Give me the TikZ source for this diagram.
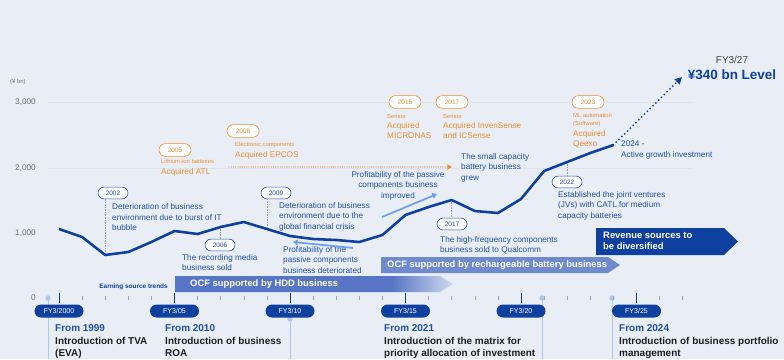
\documentclass[tikz,border=0pt]{standalone}
\usepackage{fontspec}
\setmainfont{Liberation Sans}
\usepackage{tikz}
\usetikzlibrary{arrows.meta,positioning,shapes.misc}

\definecolor{bgblue}{RGB}{233,238,246}
\definecolor{tdkblue}{RGB}{14,64,160}
\definecolor{noteblue}{RGB}{30,80,168}
\definecolor{acqorange}{RGB}{238,140,45}
\definecolor{lightarrow}{RGB}{110,160,235}
\definecolor{hddA}{RGB}{88,116,196}
\definecolor{hddB}{RGB}{210,218,238}
\definecolor{battbar}{RGB}{112,138,206}
\definecolor{axisgray}{RGB}{105,110,120}
\definecolor{tickgray}{RGB}{150,160,182}
\definecolor{guide}{RGB}{172,198,238}
\definecolor{gridline}{RGB}{222,228,239}
\definecolor{fromblack}{RGB}{30,30,30}

\pgfdeclarehorizontalshading{hddfade}{100bp}{color(0bp)=(hddA); color(25bp)=(hddA); color(64bp)=(hddA); color(75bp)=(hddB); color(100bp)=(hddB)}

\newcommand{\txtnote}{\fontsize{7}{9}\selectfont}
\newcommand{\txttiny}{\fontsize{5}{6}\selectfont}
\newcommand{\txtpill}{\fontsize{5.5}{6}\selectfont}
\newcommand{\txtacq}{\fontsize{7}{8.5}\selectfont}
\newcommand{\txtfy}{\fontsize{6}{7}\selectfont}
\newcommand{\txtbar}{\bfseries\fontsize{8}{9.4}\selectfont}
\newcommand{\txtfrom}{\bfseries\fontsize{8.5}{11}\selectfont}

\begin{document}
\begin{tikzpicture}[x=0.3mm, y=-0.3mm,
  note/.style={anchor=north west, align=left, inner sep=0pt, text=noteblue, font=\txtnote},
  yearpill/.style={rounded rectangle, draw=noteblue, line width=0.5pt, fill=white, text=noteblue, font=\txtpill, minimum width=9mm, minimum height=3.5mm, inner sep=0pt},
  acqpill/.style={yearpill, draw=acqorange, text=acqorange, minimum width=9.6mm, minimum height=3.8mm},
  acqsmall/.style={note, text=acqorange, font=\txttiny},
  acqbig/.style={note, text=acqorange, font=\txtacq},
  fypill/.style={rounded rectangle, fill=tdkblue, text=white, font=\txtfy, minimum width=14.7mm, minimum height=3.9mm, inner sep=0pt},
  lead/.style={draw=tickgray, densely dotted, line width=0.4pt},
  trend/.style={draw=lightarrow, line width=1.5pt, -{Triangle[length=4pt,width=5pt]}},
  bartext/.style={text=white, font=\txtbar, inner sep=0pt, align=left},
  fromtext/.style={anchor=north west, align=left, inner sep=0pt, text=fromblack, font=\txtfrom},
  axlabel/.style={anchor=east, inner sep=0pt, text=axisgray, font=\txtnote}
]
\path[use as bounding box, fill=bgblue] (0,0) rectangle (784,359);

% grid and y axis
\draw[gridline, line width=0.6pt] (48,102) -- (693,102) (48,168) -- (693,168);
\node[anchor=west, inner sep=0pt, text=axisgray, font=\txttiny] (unit) at (10,82) {(\textyen\ bn)};
\node[axlabel] (v3000) at (36,102) {3,000};
\node[axlabel] (v2000) at (36,168) {2,000};
\node[axlabel] (v1000) at (36,233) {1,000};
\node[axlabel] (v0) at (36,298) {0};

% guides of the "From ..." texts
\coordinate (g99) at (48,298);
\coordinate (g10) at (290,319);
\coordinate (g21) at (542,298);
\coordinate (g24) at (612,298);
\foreach \g in {g99,g10,g21,g24}{
  \draw[guide, line width=0.7pt] (\g) -- (\g |- 0,359);
  \fill[guide] (\g) circle (0.8mm);
}

% time axis
\foreach \i in {0,...,27}
  \draw[tickgray, line width=0.4pt] ({59+23.1*\i},296) -- ++(0,4);
\foreach \i/\yr in {0/2000,5/05,10/10,15/15,20/20,25/25}{
  \draw[tdkblue, line width=0.6pt] ({59+23.1*\i},293) -- ++(0,10);
  \node[fypill] (fy\yr) at ({59+23.1*\i},311) {FY3/\yr};
}

% earning source bars
\node[anchor=east, inner sep=0pt, text=tdkblue, font=\bfseries\fontsize{5.5}{6}\selectfont] (trends) at (168,287) {Earning source trends};
\shade[shading=hddfade] (175,276) -- (440,276) -- (453,284) -- (440,292) -- (175,292) -- cycle;
\node[bartext, anchor=west] (hdd) at (190,284) {OCF supported by HDD business};
\fill[battbar] (381,257) -- (608,257) -- (620,265) -- (608,273) -- (381,273) -- cycle;
\node[bartext, anchor=west] (batt) at (387,265) {OCF supported by rechargeable battery business};
\fill[tdkblue] (596,228) -- (724,228) -- (738,241.5) -- (724,255) -- (596,255) -- cycle;
\node[bartext, anchor=north west] (revenue) at (603,231.5) {Revenue sources to\\be diversified};

% acquisitions
\node[acqpill] (a2005) at (175,150) {2005};
\node[acqsmall] (a2005s) at (161,159.5) {Lithium-ion batteries};
\node[acqbig] (a2005b) at (161,168.5) {Acquired ATL};
\node[acqpill] (a2008) at (243,131) {2008};
\node[acqsmall] (a2008s) at (235,142.5) {Electronic components};
\node[acqbig] (a2008b) at (235,151) {Acquired EPCOS};
\node[acqpill] (a2015) at (405,102) {2015};
\node[acqsmall] (a2015s) at (387,114.5) {Sensor};
\node[acqbig] (a2015b) at (387,122.5) {Acquired\\MICRONAS};
\node[acqpill] (a2017) at (452,102) {2017};
\node[acqsmall] (a2017s) at (443,114.5) {Sensor};
\node[acqbig] (a2017b) at (443,122.5) {Acquired InvenSense\\and ICSense};
\node[acqpill] (a2023) at (588,102) {2023};
\node[acqsmall] (a2023s) at (573,113.5) {ML automation\\(Software)};
\node[acqbig] (a2023b) at (573,130.5) {Acquired\\Qeexo};
\coordinate (acqL) at (229,167);
\coordinate (acqR) at (452,167);
\draw[acqorange, line width=1.1pt, line cap=round, dash pattern=on 0pt off 1.9pt, -{Triangle[length=4pt,width=4.5pt]}] (acqL) -- (acqR);

% revenue line
\foreach \yv [count=\i from 0] in {229,237,255,252,242,231,234,227,222,229,236,239,240,242,235,215,207,200,211,213,199,171,162,153,145}
  \coordinate (p\i) at ({59+23.1*\i},\yv);
\coordinate (goal) at (682,77);

\node[yearpill] (y2002) at (113,193) {2002};
\node[yearpill] (y2006) at (220,245) {2006};
\node[yearpill] (y2009) at (276,193) {2009};
\node[yearpill] (y2017) at (452,224) {2017};
\node[yearpill] (y2022) at (567,182) {2022};
\draw[lead] (p2) -- (p2 |- y2002.south);
\draw[lead] (p7) -- (p7 |- y2006.north);
\draw[lead] (p9) -- (p9 |- y2009.south);
\draw[lead] (p17) -- (p17 |- y2017.north);
\draw[lead] (p22) -- (p22 |- y2022.north);

\draw[tdkblue, line width=2.2pt, line join=round] (p0) \foreach \i in {1,...,24}{ -- (p\i)};
\draw[tdkblue, line width=1.7pt, line cap=round, dash pattern=on 0pt off 3.4pt, -{Triangle[length=6pt,width=6pt]}] (p24) -- (goal);

\node[anchor=south, inner sep=0pt, text=fromblack!85, font=\fontsize{8.5}{10}\selectfont] (fy27) at (732,64) {FY3/27};
\node[anchor=center, inner sep=0pt, text=tdkblue, font=\bfseries\fontsize{11.5}{13}\selectfont] (target) at (732,75) {\textyen340 bn Level};

% notes
\node[note] (n2002) at (112,203.5) {Deterioration of business\\environment due to burst of IT\\bubble};
\node[note] (n2006) at (182,254) {The recording media\\business sold};
\node[note] (n2009) at (279,202) {Deterioration of business\\environment due to the\\global financial crisis};
\node[note] (ndown) at (283,246) {Profitability of the\\passive components\\business deteriorated};
\node[note, anchor=north, align=center] (nup) at (398,171) {Profitability of the passive\\components business\\improved};
\node[note] (nsmall) at (461,153) {The small capacity\\battery business\\grew};
\node[note] (n2017) at (440,236) {The high-frequency components\\business sold to Qualcomm};
\node[note] (n2022) at (558,191) {Established the joint ventures\\(JVs) with CATL for medium\\capacity batteries};
\node[note] (nactive) at (621,141) {2024 -\\Active growth investment};
\coordinate (dnA) at (353,248);
\coordinate (dnB) at (293,242);
\coordinate (upA) at (382,217);
\coordinate (upB) at (437,194);
\draw[trend] (dnA) -- (dnB);
\draw[trend] (upA) -- (upB);

% policies
\node[fromtext] (from99) at (55,324) {\textcolor{noteblue}{From 1999}\\Introduction of TVA\\(EVA)};
\node[fromtext] (from10) at (165,324) {\textcolor{noteblue}{From 2010}\\Introduction of business\\ROA};
\node[fromtext] (from21) at (384,324) {\textcolor{noteblue}{From 2021}\\Introduction of the matrix for\\priority allocation of investment};
\node[fromtext] (from24) at (619,324) {\textcolor{noteblue}{From 2024}\\Introduction of business portfolio\\management};
\end{tikzpicture}
\end{document}
